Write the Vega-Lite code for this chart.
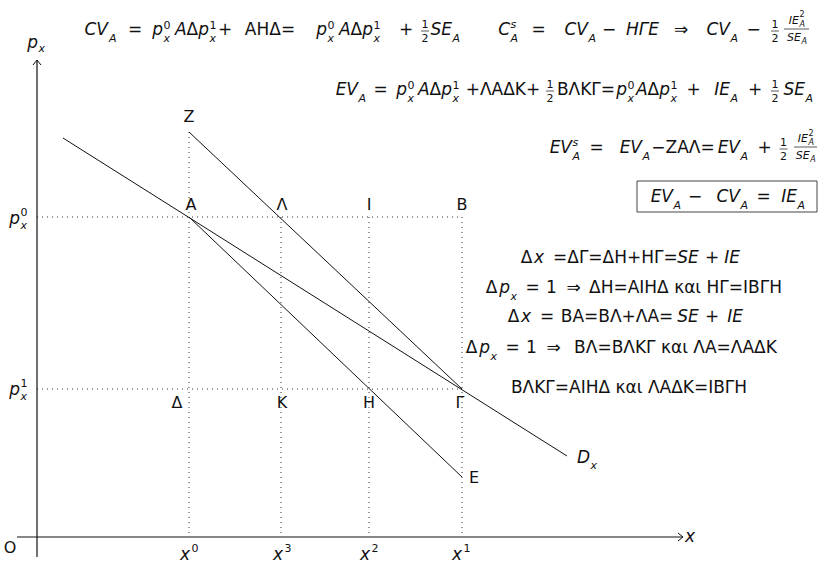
{
 "$schema": "https://vega.github.io/schema/vega-lite/v6.json",
 "width": 821, "height": 565, "padding": 0, "autosize": {"type": "none"},
 "background": "white",
 "config": {"view": {"stroke": null}, "font": "DejaVu Sans"},
 "datasets": {
  "dots": [
   {"x": 0, "y": 320, "x2": 425, "y2": 320},
   {"x": 0, "y": 148, "x2": 425, "y2": 148},
   {"x": 152, "y": 405, "x2": 152, "y2": 0},
   {"x": 244, "y": 320, "x2": 244, "y2": 0},
   {"x": 332, "y": 320, "x2": 332, "y2": 0},
   {"x": 425, "y": 320, "x2": 425, "y2": 0}
  ],
  "curves": [
   {"x": 26, "y": 399, "x2": 530, "y2": 81},
   {"x": 152, "y": 320, "x2": 425, "y2": 60},
   {"x": 152, "y": 405, "x2": 425, "y2": 148}
  ],
  "axes": [
   {"x": -20, "y": 0, "x2": 646, "y2": 0},
   {"x": 0, "y": -20, "x2": 0, "y2": 477}
  ],
  "bars": [
   {"x": 384, "y": 506, "x2": 392, "y2": 506},
   {"x": 734, "y": 506, "x2": 742, "y2": 506},
   {"x": 747, "y": 508, "x2": 772, "y2": 508},
   {"x": 509, "y": 446, "x2": 517, "y2": 446},
   {"x": 734, "y": 446, "x2": 742, "y2": 446},
   {"x": 742.5, "y": 388, "x2": 750.5, "y2": 388},
   {"x": 757, "y": 390, "x2": 780, "y2": 390}
  ],
  "box": [{"x": 600, "y": 325, "x2": 780, "y2": 356}],
  "m": [
   {"x": 98, "y": 502, "t": "="},
   {"x": 188, "y": 502, "t": "+"},
   {"x": 233, "y": 502, "t": "AHΔ="},
   {"x": 369, "y": 502, "t": "+"},
   {"x": 501.5, "y": 502, "t": "="},
   {"x": 572, "y": 502, "t": "−"},
   {"x": 644, "y": 502, "t": "⇒"},
   {"x": 716.5, "y": 502, "t": "−"},
   {"x": 343.5, "y": 442, "t": "="},
   {"x": 466, "y": 442, "t": "+ΛAΔK+"},
   {"x": 549, "y": 442, "t": "BΛKΓ="},
   {"x": 656.5, "y": 442, "t": "+"},
   {"x": 718, "y": 442, "t": "+"},
   {"x": 559.5, "y": 384, "t": "="},
   {"x": 646, "y": 384, "t": "−ZAΛ="},
   {"x": 727.5, "y": 384, "t": "+"},
   {"x": 658, "y": 335, "t": "−"},
   {"x": 726.5, "y": 335, "t": "="},
   {"x": 489.5, "y": 274, "t": "Δ"},
   {"x": 523, "y": 274, "t": "="},
   {"x": 585.5, "y": 274, "t": "ΔΓ=ΔH+HΓ="},
   {"x": 675, "y": 274, "t": "+"},
   {"x": 454.5, "y": 244, "t": "Δ"},
   {"x": 495.5, "y": 244, "t": "="},
   {"x": 514.5, "y": 244, "t": "1"},
   {"x": 536.5, "y": 244, "t": "⇒"},
   {"x": 648.5, "y": 244, "t": "ΔH=AIHΔ και HΓ=IBΓH"},
   {"x": 476.5, "y": 215, "t": "Δ"},
   {"x": 510, "y": 215, "t": "="},
   {"x": 580, "y": 215, "t": "BA=BΛ+ΛA="},
   {"x": 675, "y": 215, "t": "+"},
   {"x": 434.5, "y": 184, "t": "Δ"},
   {"x": 475.5, "y": 184, "t": "="},
   {"x": 494.5, "y": 184, "t": "1"},
   {"x": 516.5, "y": 184, "t": "⇒"},
   {"x": 638.5, "y": 184, "t": "BΛ=BΛKΓ και ΛA=ΛAΔK"},
   {"x": 592, "y": 144, "t": "BΛKΓ=AIHΔ και ΛAΔK=IBΓH"}
  ],
  "m_r": [
   {"x": 161.2, "y": 502, "t": "Δ"},
   {"x": 325.2, "y": 502, "t": "Δ"},
   {"x": 404.2, "y": 442, "t": "Δ"},
   {"x": 622.2, "y": 442, "t": "Δ"}
  ],
  "mi_r": [
   {"x": 71, "y": 502, "t": "CV"},
   {"x": 126, "y": 502, "t": "p"},
   {"x": 149.6, "y": 502, "t": "A"},
   {"x": 172, "y": 502, "t": "p"},
   {"x": 290, "y": 502, "t": "p"},
   {"x": 313.6, "y": 502, "t": "A"},
   {"x": 336, "y": 502, "t": "p"},
   {"x": 415, "y": 502, "t": "SE"},
   {"x": 473, "y": 502, "t": "C"},
   {"x": 551, "y": 502, "t": "CV"},
   {"x": 693, "y": 502, "t": "CV"},
   {"x": 321, "y": 442, "t": "EV"},
   {"x": 370, "y": 442, "t": "p"},
   {"x": 392.6, "y": 442, "t": "A"},
   {"x": 415, "y": 442, "t": "p"},
   {"x": 590, "y": 442, "t": "p"},
   {"x": 610.6, "y": 442, "t": "A"},
   {"x": 633, "y": 442, "t": "p"},
   {"x": 693, "y": 442, "t": "IE"},
   {"x": 768, "y": 442, "t": "SE"},
   {"x": 535, "y": 384, "t": "EV"},
   {"x": 605, "y": 384, "t": "EV"},
   {"x": 703, "y": 384, "t": "EV"},
   {"x": 636, "y": 335, "t": "EV"},
   {"x": 703, "y": 335, "t": "CV"},
   {"x": 760, "y": 335, "t": "IE"},
   {"x": 473, "y": 244, "t": "p"},
   {"x": 453, "y": 184, "t": "p"},
   {"x": 1, "y": 489, "t": "p"},
   {"x": -17, "y": 313, "t": "p"},
   {"x": -17, "y": 142, "t": "p"},
   {"x": 553, "y": 74, "t": "D"}
  ],
  "mi": [
   {"x": 605.5, "y": 502, "t": "HΓE"},
   {"x": 502, "y": 274, "t": "x"},
   {"x": 651, "y": 274, "t": "SE"},
   {"x": 695, "y": 274, "t": "IE"},
   {"x": 489, "y": 215, "t": "x"},
   {"x": 651, "y": 215, "t": "SE"},
   {"x": 698, "y": 215, "t": "IE"},
   {"x": 653, "y": -5, "t": "x"},
   {"x": 148, "y": -23, "t": "x"},
   {"x": 241, "y": -23, "t": "x"},
   {"x": 328, "y": -23, "t": "x"},
   {"x": 420, "y": -23, "t": "x"}
  ],
  "s": [
   {"x": 388, "y": 509, "t": "1"},
   {"x": 388, "y": 495, "t": "2"},
   {"x": 738, "y": 509, "t": "1"},
   {"x": 738, "y": 495, "t": "2"},
   {"x": 513, "y": 449, "t": "1"},
   {"x": 513, "y": 435, "t": "2"},
   {"x": 738, "y": 449, "t": "1"},
   {"x": 738, "y": 435, "t": "2"},
   {"x": 746.5, "y": 391, "t": "1"},
   {"x": 746.5, "y": 377, "t": "2"},
   {"x": 158, "y": -15, "t": "0"},
   {"x": 251, "y": -15, "t": "3"},
   {"x": 338, "y": -15, "t": "2"},
   {"x": 430, "y": -15, "t": "1"}
  ],
  "s_l": [
   {"x": 126.5, "y": 508, "t": "0"},
   {"x": 172.5, "y": 508, "t": "1"},
   {"x": 290.5, "y": 508, "t": "0"},
   {"x": 336.5, "y": 508, "t": "1"},
   {"x": 370.5, "y": 448, "t": "0"},
   {"x": 415.5, "y": 448, "t": "1"},
   {"x": 590.5, "y": 448, "t": "0"},
   {"x": 633.5, "y": 448, "t": "1"},
   {"x": -16.5, "y": 321, "t": "0"},
   {"x": -16.5, "y": 150, "t": "1"}
  ],
  "si_l": [
   {"x": 72, "y": 495, "t": "A"},
   {"x": 126.5, "y": 495, "t": "x"},
   {"x": 172.5, "y": 495, "t": "x"},
   {"x": 290.5, "y": 495, "t": "x"},
   {"x": 336.5, "y": 495, "t": "x"},
   {"x": 415.5, "y": 495, "t": "A"},
   {"x": 473.5, "y": 509, "t": "s"},
   {"x": 473.5, "y": 495, "t": "A"},
   {"x": 551.5, "y": 495, "t": "A"},
   {"x": 693.5, "y": 495, "t": "A"},
   {"x": 321.5, "y": 435, "t": "A"},
   {"x": 370.5, "y": 435, "t": "x"},
   {"x": 415.5, "y": 435, "t": "x"},
   {"x": 590.5, "y": 435, "t": "x"},
   {"x": 633.5, "y": 435, "t": "x"},
   {"x": 693.5, "y": 435, "t": "A"},
   {"x": 768.5, "y": 435, "t": "A"},
   {"x": 535.5, "y": 391, "t": "s"},
   {"x": 535.5, "y": 377, "t": "A"},
   {"x": 605.5, "y": 377, "t": "A"},
   {"x": 703.5, "y": 377, "t": "A"},
   {"x": 636.5, "y": 328, "t": "A"},
   {"x": 703.5, "y": 328, "t": "A"},
   {"x": 760.5, "y": 328, "t": "A"},
   {"x": 473.5, "y": 237, "t": "x"},
   {"x": 453.5, "y": 177, "t": "x"},
   {"x": 1.5, "y": 485, "t": "x"},
   {"x": -16.5, "y": 308, "t": "x"},
   {"x": -16.5, "y": 137, "t": "x"},
   {"x": 553.5, "y": 68, "t": "x"}
  ],
  "si_r": [
   {"x": 762, "y": 513, "t": "IE"},
   {"x": 764, "y": 496, "t": "SE"},
   {"x": 771, "y": 395, "t": "IE"},
   {"x": 772.75, "y": 378, "t": "SE"}
  ],
  "xs_l": [
   {"x": 762.5, "y": 520, "t": "2"},
   {"x": 771.5, "y": 401, "t": "2"}
  ],
  "xsi_l": [
   {"x": 762.5, "y": 510, "t": "A"},
   {"x": 764.5, "y": 493, "t": "A"},
   {"x": 771.5, "y": 392, "t": "A"},
   {"x": 773.25, "y": 375, "t": "A"}
  ],
  "lbl": [
   {"x": 152, "y": 420, "t": "Z"},
   {"x": 154, "y": 332, "t": "A"},
   {"x": 245, "y": 332, "t": "Λ"},
   {"x": 332, "y": 332, "t": "I"},
   {"x": 425, "y": 332, "t": "B"},
   {"x": 140, "y": 134, "t": "Δ"},
   {"x": 245, "y": 134, "t": "K"},
   {"x": 332, "y": 134, "t": "H"},
   {"x": 423, "y": 134, "t": "Γ"},
   {"x": 437, "y": 59, "t": "E"},
   {"x": -27, "y": -11, "t": "O"}
  ]
 },
 "encoding": {
  "x": {"field": "x", "type": "quantitative", "scale": {"domain": [-37, 784], "nice": false, "zero": false}, "axis": null},
  "y": {"field": "y", "type": "quantitative", "scale": {"domain": [-28, 537], "nice": false, "zero": false}, "axis": null}
 },
 "layer": [
  {"data": {"name": "dots"}, "mark": {"type": "rule", "strokeDash": [1, 4], "color": "#333", "strokeWidth": 1}, "encoding": {"x2": {"field": "x2"}, "y2": {"field": "y2"}}},
  {"data": {"name": "curves"}, "mark": {"type": "rule", "color": "#111", "strokeWidth": 1}, "encoding": {"x2": {"field": "x2"}, "y2": {"field": "y2"}}},
  {"data": {"name": "axes"}, "mark": {"type": "rule", "color": "#111", "strokeWidth": 1.2}, "encoding": {"x2": {"field": "x2"}, "y2": {"field": "y2"}}},
  {"data": {"name": "bars"}, "mark": {"type": "rule", "color": "#111", "strokeWidth": 0.7}, "encoding": {"x2": {"field": "x2"}, "y2": {"field": "y2"}}},
  {"data": {"name": "box"}, "mark": {"type": "rect", "fill": "transparent", "stroke": "#444", "strokeWidth": 1}, "encoding": {"x2": {"field": "x2"}, "y2": {"field": "y2"}}},
  {"data": {"values": [{"x": 646, "y": 0}]}, "mark": {"type": "point", "shape": "M-1,-0.8L0,0L-1,0.8", "size": 100, "filled": false, "color": "#111", "strokeWidth": 1, "opacity": 1}},
  {"data": {"values": [{"x": 0, "y": 477}]}, "mark": {"type": "point", "shape": "M-0.8,1L0,0L0.8,1", "size": 100, "filled": false, "color": "#111", "strokeWidth": 1, "opacity": 1}},
  {"data": {"name": "m"}, "mark": {"type": "text", "fontSize": 17, "align": "center", "baseline": "alphabetic", "color": "#111"}, "encoding": {"text": {"field": "t"}}},
  {"data": {"name": "m_r"}, "mark": {"type": "text", "fontSize": 17, "align": "right", "baseline": "alphabetic", "color": "#111"}, "encoding": {"text": {"field": "t"}}},
  {"data": {"name": "mi_r"}, "mark": {"type": "text", "fontSize": 17, "fontStyle": "italic", "align": "right", "baseline": "alphabetic", "color": "#111"}, "encoding": {"text": {"field": "t"}}},
  {"data": {"name": "mi"}, "mark": {"type": "text", "fontSize": 17, "fontStyle": "italic", "align": "center", "baseline": "alphabetic", "color": "#111"}, "encoding": {"text": {"field": "t"}}},
  {"data": {"name": "s"}, "mark": {"type": "text", "fontSize": 11, "align": "center", "baseline": "alphabetic", "color": "#111"}, "encoding": {"text": {"field": "t"}}},
  {"data": {"name": "s_l"}, "mark": {"type": "text", "fontSize": 11, "align": "left", "baseline": "alphabetic", "color": "#111"}, "encoding": {"text": {"field": "t"}}},
  {"data": {"name": "si_l"}, "mark": {"type": "text", "fontSize": 11, "fontStyle": "italic", "align": "left", "baseline": "alphabetic", "color": "#111"}, "encoding": {"text": {"field": "t"}}},
  {"data": {"name": "si_r"}, "mark": {"type": "text", "fontSize": 11, "fontStyle": "italic", "align": "right", "baseline": "alphabetic", "color": "#111"}, "encoding": {"text": {"field": "t"}}},
  {"data": {"name": "xs_l"}, "mark": {"type": "text", "fontSize": 8, "align": "left", "baseline": "alphabetic", "color": "#111"}, "encoding": {"text": {"field": "t"}}},
  {"data": {"name": "xsi_l"}, "mark": {"type": "text", "fontSize": 8, "fontStyle": "italic", "align": "left", "baseline": "alphabetic", "color": "#111"}, "encoding": {"text": {"field": "t"}}},
  {"data": {"name": "lbl"}, "mark": {"type": "text", "fontSize": 16, "align": "center", "baseline": "middle", "color": "#111"}, "encoding": {"text": {"field": "t"}}}
 ]
}
